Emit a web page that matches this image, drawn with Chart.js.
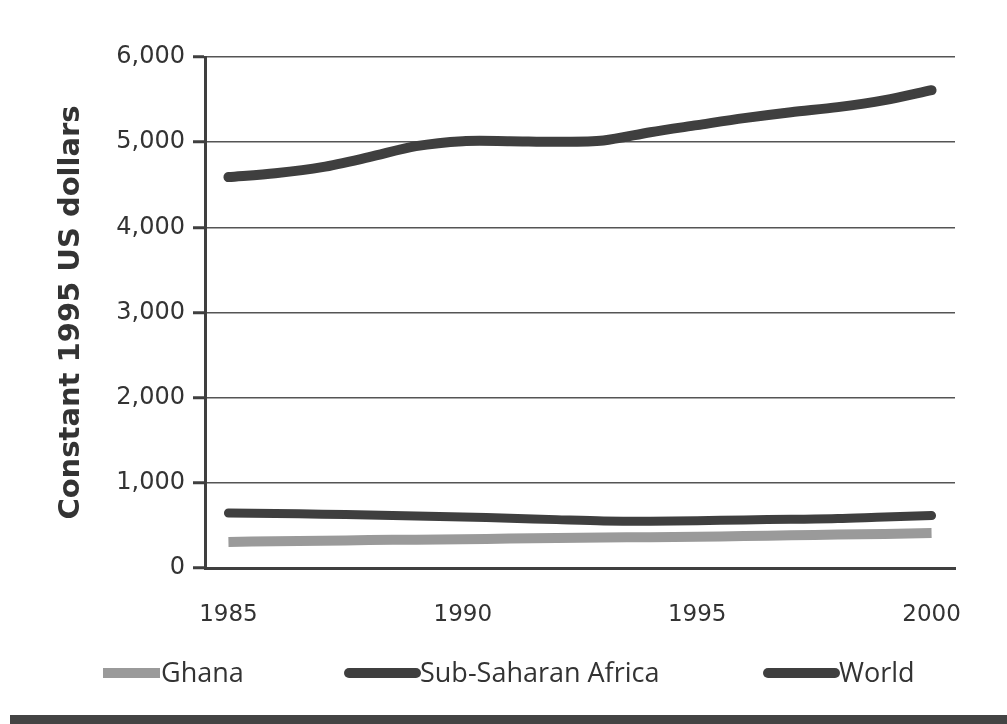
<!DOCTYPE html>
<html>
<head>
<meta charset="utf-8">
<script src="https://cdn.jsdelivr.net/npm/chart.js@4"></script>
<style>
html,body{margin:0;padding:0;background:#fff;}
#wrap{width:1007px;height:724px;position:relative;}
</style>
</head>
<body>
<div id="wrap"><canvas id="c" width="1007" height="724"></canvas></div>
<script>
const years = ['1985','1986','1987','1988','1989','1990','1991','1992','1993','1994','1995','1996','1997','1998','1999','2000'];
const ghana = [305,315,320,328,333,338,345,352,358,362,368,375,385,392,400,410];
const subSaharanAfrica = [645,640,632,622,610,598,585,568,552,548,555,565,572,580,600,615];
const world = [4590,4636,4707,4824,4953,5012,5012,5005,5020,5117,5200,5282,5352,5411,5493,5610];
const seriesNames = ['Ghana','Sub-Saharan Africa','World'];
const yTicks = [0,1000,2000,3000,4000,5000,6000];
const xTickYears = ['1985','1990','1995','2000'];
const yTitle = 'Constant 1995 US dollars';

const INK = '#3f3f3f';
const GHANA_C = '#9a9a9a';

const legendPlugin = {
  id: 'customLegend',
  afterDraw(chart) {
    const ctx = chart.ctx;
    const items = [
      {x0: 103, x1: 160, color: GHANA_C},
      {x0: 344, x1: 419, color: INK},
      {x0: 763, x1: 838, color: INK}
    ];
    const y = 673;
    ctx.save();
    chart.data.datasets.forEach((ds, i) => {
      const it = items[i];
      ctx.strokeStyle = ds.borderColor;
      ctx.lineWidth = 10;
      ctx.lineCap = i === 0 ? 'butt' : 'round';
      ctx.beginPath();
      ctx.moveTo(it.x0 + (i === 0 ? 0 : 5), y);
      ctx.lineTo(it.x1 - (i === 0 ? 0 : 3), y);
      ctx.stroke();
      ctx.fillStyle = '#333';
      ctx.font = '27px "Open Sans"';
      ctx.textBaseline = 'middle';
      ctx.textAlign = 'left';
      ctx.fillText(ds.label, it.x1 + 1, y + 1);
    });
    // bottom dark bar
    ctx.fillStyle = '#444';
    ctx.fillRect(10, 715, 997, 9);
    ctx.restore();
  }
};

const bgPlugin = {
  id: 'bg',
  beforeDraw(chart) {
    const ctx = chart.ctx;
    ctx.save();
    ctx.fillStyle = '#fff';
    ctx.fillRect(0, 0, chart.width, chart.height);
    ctx.restore();
  }
};

new Chart(document.getElementById('c'), {
  type: 'line',
  data: {
    labels: years,
    datasets: [
      {label: seriesNames[0], data: ghana, borderColor: GHANA_C, backgroundColor: GHANA_C, borderWidth: 10, pointRadius: 0, tension: 0.3, borderCapStyle: 'butt'},
      {label: seriesNames[1], data: subSaharanAfrica, borderColor: INK, backgroundColor: INK, borderWidth: 9, pointRadius: 0, tension: 0.3, borderCapStyle: 'round'},
      {label: seriesNames[2], data: world, borderColor: INK, backgroundColor: INK, borderWidth: 10, pointRadius: 0, tension: 0.3, borderCapStyle: 'round'}
    ]
  },
  options: {
    responsive: false,
    animation: false,
    devicePixelRatio: 1,
    layout: {padding: {left: 44, right: 52, top: 57, bottom: 96}},
    plugins: {legend: {display: false}, tooltip: {enabled: false}, title: {display: false}},
    scales: {
      x: {
        type: 'category',
        offset: true,
        grid: {display: false, drawTicks: false},
        border: {display: true, color: INK, width: 3},
        ticks: {
          autoSkip: false, maxRotation: 0, padding: 33,
          color: '#333', font: {family: 'DejaVu Sans', size: 23},
          callback: function(v) { const l = this.getLabelForValue(v); return xTickYears.includes(l) ? l : ''; }
        },
        afterFit(scale) { scale.height = 60; }
      },
      y: {
        min: 0, max: 6000,
        afterBuildTicks(scale) { scale.ticks = yTicks.map(v => ({value: v})); },
        grid: {color: '#555', lineWidth: 1.5, tickLength: 12, tickColor: INK, tickWidth: 3},
        border: {display: true, color: INK, width: 3},
        ticks: {
          padding: 8, color: '#333', font: {family: 'DejaVu Sans', size: 24},
          callback: v => v.toLocaleString('en-US')
        },
        title: {display: true, text: yTitle, color: '#333', font: {family: 'DejaVu Sans', size: 29, weight: 'bold'}, padding: {top: 10, bottom: 0}},
        afterFit(scale) { scale.width = 161; }
      }
    }
  },
  plugins: [bgPlugin, legendPlugin]
});
</script>
</body>
</html>
